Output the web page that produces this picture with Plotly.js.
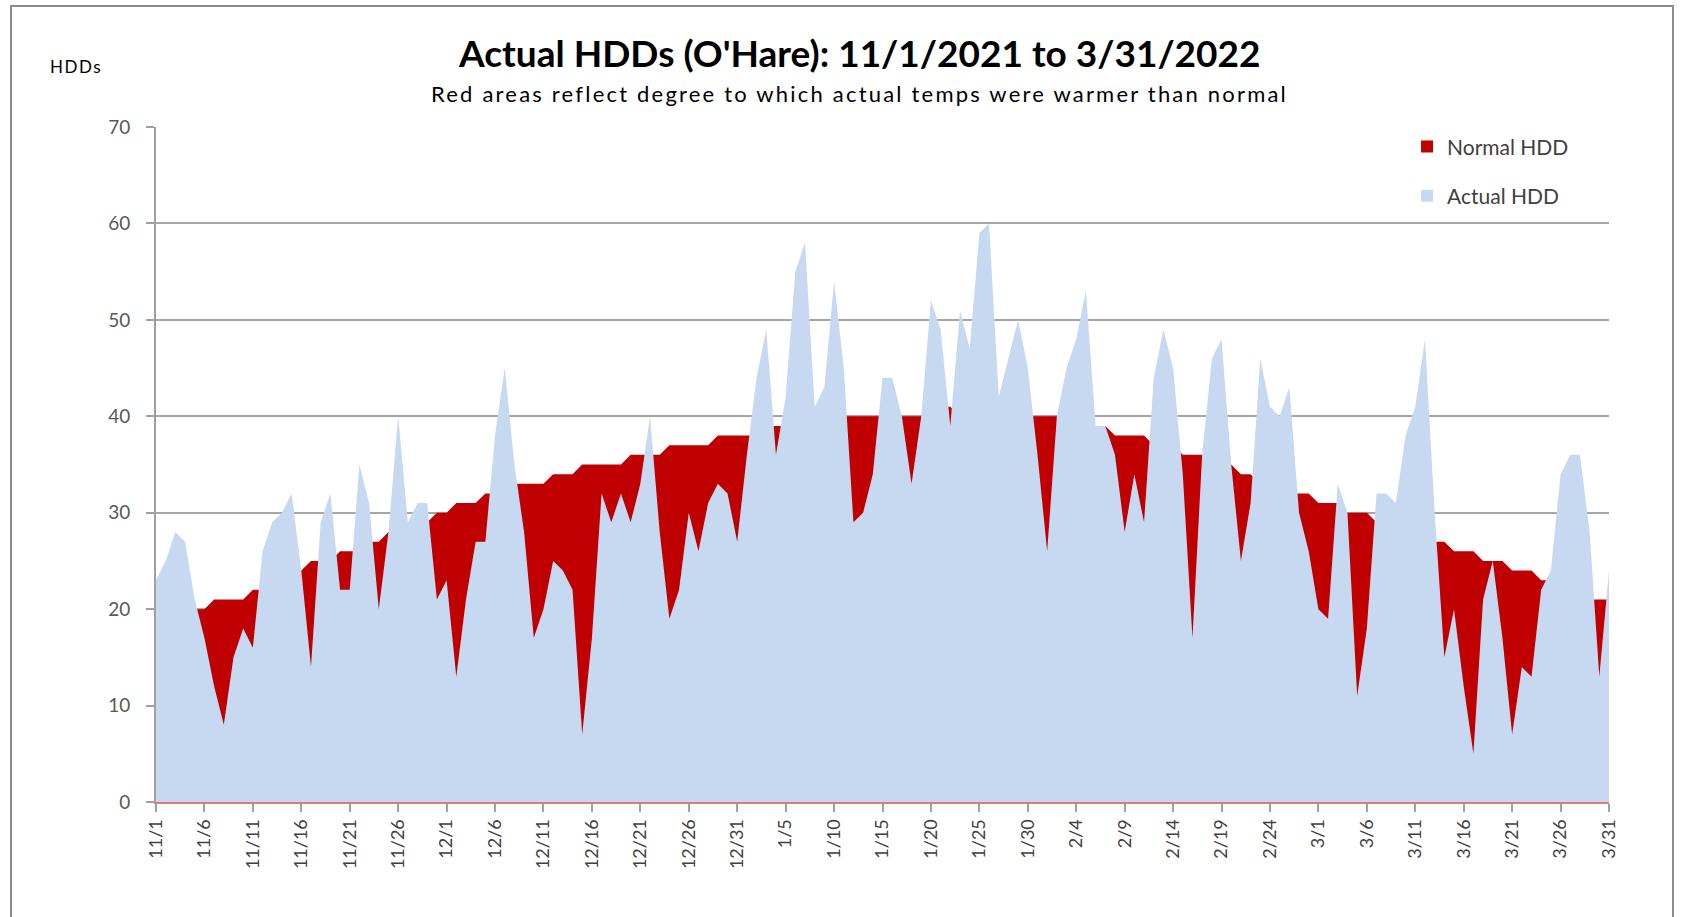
<!DOCTYPE html>
<html>
<head>
<meta charset="utf-8">
<script src="https://cdn.plot.ly/plotly-3.0.1.min.js"></script>
<style>
  html, body { margin: 0; padding: 0; background: #fff; }
  #wrap { position: relative; width: 1685px; height: 917px; overflow: hidden; }
  #frame { position: absolute; left: 10px; top: 5px; width: 1664px; height: 1000px; border: 2px solid #8c8c8c; box-sizing: border-box; pointer-events: none; }
  #chart { position: absolute; left: 0; top: 0; width: 1685px; height: 917px; }
</style>
</head>
<body>
<div id="wrap">
  <div id="chart"></div>
  <div id="frame"></div>
</div>
<script>
// Season: 11/1/2021 .. 3/31/2022 (151 days)
const startDate = new Date(2021, 10, 1);
const dayCount = 151;
const categories = [];
for (let i = 0; i < dayCount; i++) {
  const d = new Date(startDate.getFullYear(), startDate.getMonth(), startDate.getDate() + i);
  categories.push((d.getMonth() + 1) + '/' + d.getDate());
}

// Normal HDD (daily), 11/1 .. 3/31
const normalHDD = [
  19,19,19,20,20,20,21,21,21,21, 22,22,22,23,23,24,25,25,25,26,
  26,26,27,27,28,28,28,29,29,30, 30,31,31,31,32,32,32,33,33,33,
  33,34,34,34,35,35,35,35,35,36, 36,36,36,37,37,37,37,37,38,38,
  38,38,38,39,39,39,39,40,40,40, 40,40,40,40,40,40,40,40,40,40,
  40,41,41,40,40,40,40,40,40,40, 40,40,40,40,40,39,39,39,39,38,
  38,38,38,37,37,37,36,36,36,35, 35,35,34,34,33,33,33,32,32,32,
  31,31,31,30,30,30,29,29,28,28, 28,27,27,27,26,26,26,25,25,25,
  24,24,24,23,23,22,22,22,21,21, 21
];

// Actual HDD (daily), 11/1 .. 3/31
const actualHDD = [
  23,25,28,27,21,17,12,8,15,18, 16,26,29,30,32,24,14,29,32,22,
  22,35,31,20,28,40,29,31,31,21, 23,13,21,27,27,38,45,35,28,17,
  20,25,24,22,7,17,32,29,32,29, 33,40,28,19,22,30,26,31,33,32,
  27,36,44,49,36,42,55,58,41,43, 54,45,29,30,34,44,44,40,33,40,
  52,49,39,51,47,59,60,42,46,50, 45,36,26,40,45,48,53,39,39,36,
  28,34,29,44,49,45,34,17,36,46, 48,35,25,31,46,41,40,43,30,26,
  20,19,33,30,11,18,32,32,31,38, 41,48,30,15,20,12,5,21,25,17,
  7,14,13,22,24,34,36,36,28,13, 24
];

const seriesNames = ['Normal HDD', 'Actual HDD'];
const seriesColors = ['#C00000', '#C6D9F1'];

const tickEvery = 5;
const tickVals = categories.filter((c, i) => i % tickEvery === 0);

const font = 'Lato, "Open Sans", "DejaVu Sans", sans-serif';

const traces = [
  {
    type: 'scatter', mode: 'lines', x: categories, y: normalHDD,
    fill: 'tozeroy', fillcolor: seriesColors[0],
    line: { width: 0, color: seriesColors[0] }, showlegend: false, hoverinfo: 'x+y', name: seriesNames[0]
  },
  {
    type: 'scatter', mode: 'lines', x: categories, y: actualHDD,
    fill: 'tozeroy', fillcolor: seriesColors[1],
    line: { width: 0, color: seriesColors[1] }, showlegend: false, hoverinfo: 'x+y', name: seriesNames[1]
  },
  {
    type: 'scatter', mode: 'markers', x: [null], y: [null], name: seriesNames[0],
    marker: { symbol: 'square', size: 12, color: seriesColors[0] }, legendgroup: 'n', showlegend: true
  },
  {
    type: 'scatter', mode: 'markers', x: [null], y: [null], name: seriesNames[1],
    marker: { symbol: 'square', size: 12, color: seriesColors[1] }, legendgroup: 'a', showlegend: true
  }
];

const layout = {
  width: 1685, height: 917,
  margin: { l: 156, r: 76, t: 127, b: 115 },
  paper_bgcolor: 'rgba(0,0,0,0)', plot_bgcolor: '#ffffff',
  font: { family: font, color: '#404040' },
  showlegend: true,
  legend: {
    x: 0.861, y: 1.001, xanchor: 'left', yanchor: 'top',
    font: { family: font, size: 21, color: '#404040' },
    tracegroupgap: 19, bgcolor: 'rgba(0,0,0,0)', itemwidth: 30
  },
  xaxis: {
    type: 'category', range: [0, dayCount - 1],
    tickmode: 'array', tickvals: tickVals, ticktext: tickVals,
    tickangle: -90, ticks: 'outside', ticklen: 8, tickwidth: 2, tickcolor: '#a0a0a0',
    showgrid: false, showline: true, linecolor: '#e07a7a', linewidth: 2,
    tickfont: { family: font, size: 18, color: '#404040' }, zeroline: false, fixedrange: true
  },
  yaxis: {
    range: [0, 70], dtick: 10, tick0: 0,
    ticks: 'outside', ticklen: 8, tickwidth: 2, tickcolor: '#a0a0a0',
    showgrid: true, gridcolor: '#a6a6a6', gridwidth: 2,
    showline: true, linecolor: '#a0a0a0', linewidth: 2,
    tickfont: { family: font, size: 19, color: '#595959' },
    ticklabelstandoff: 12, zeroline: false, fixedrange: true
  },
  annotations: [
    { text: "<b>Actual HDDs (O'Hare): 11/1/2021 to 3/31/2022</b>", xref: 'paper', yref: 'paper',
      x: 0.484, y: 1.111, xanchor: 'center', yanchor: 'middle', showarrow: false,
      font: { family: font, size: 37, color: '#000000' } },
    { text: 'Red areas reflect degree to which actual temps were warmer than normal', xref: 'paper', yref: 'paper',
      x: 0.4845, y: 1.049, xanchor: 'center', yanchor: 'middle', showarrow: false,
      font: { family: font, size: 22, color: '#000000' } },
    { text: 'HDDs', xref: 'paper', yref: 'paper',
      x: -0.055, y: 1.09, xanchor: 'center', yanchor: 'middle', showarrow: false,
      font: { family: font, size: 17, color: '#000000' } }
  ]
};

const spacing = [0, 2.2, 1.5];

Plotly.newPlot('chart', traces, layout, { staticPlot: true, displayModeBar: false }).then(function (gd) {
  const texts = gd.querySelectorAll('.annotation-text');
  texts.forEach(function (t, i) {
    if (spacing[i]) t.style.letterSpacing = spacing[i] + 'px';
  });
});
</script>
</body>
</html>
